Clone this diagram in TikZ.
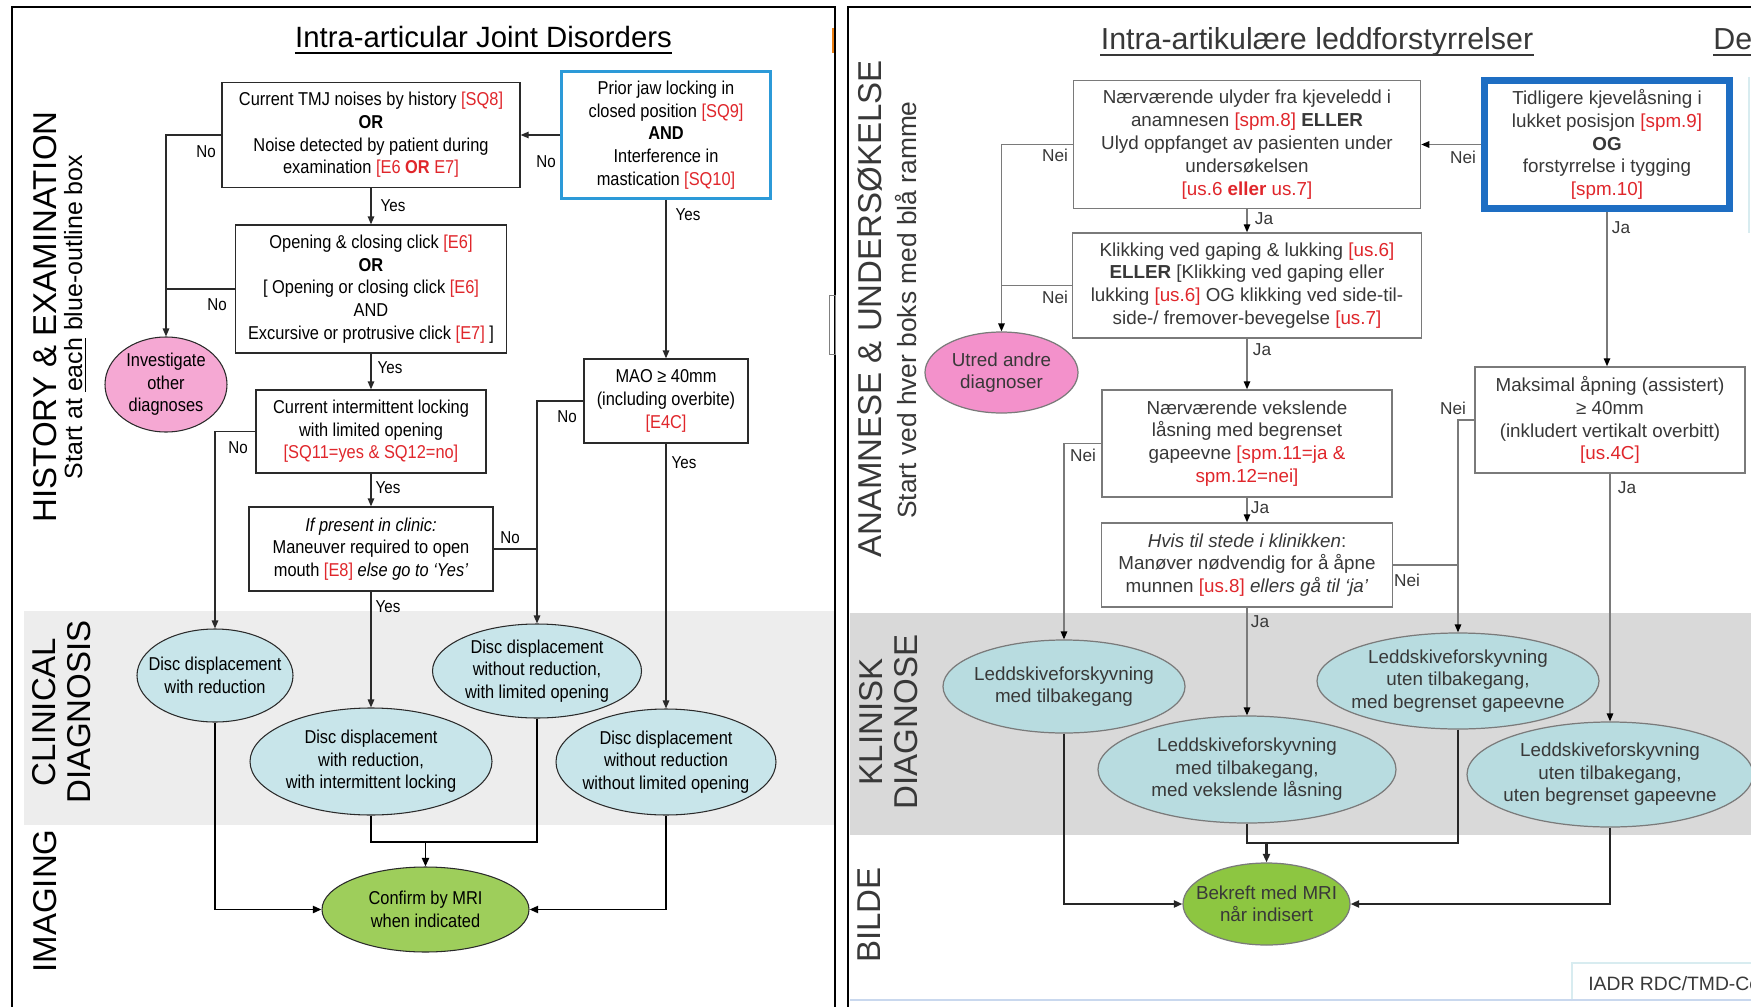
\documentclass[tikz,border=0pt]{standalone}
\usepackage{fontspec}
\setmainfont{Liberation Sans}
\newfontfamily\narrowfont[FakeStretch=0.88]{Liberation Sans}
\usetikzlibrary{arrows.meta,shapes.geometric,calc}
\definecolor{Ink}{HTML}{2A2A2A}
\definecolor{NInk}{HTML}{383838}
\definecolor{NLine}{HTML}{7A7A7A}
\definecolor{QRed}{HTML}{E0262B}
\definecolor{StartBlue}{HTML}{2C9AD8}
\definecolor{NStartBlue}{HTML}{1E6EC3}
\definecolor{DxCyan}{HTML}{C8E5EA}
\definecolor{NDxCyan}{HTML}{B8DCE0}
\definecolor{OtherPink}{HTML}{F5A8D3}
\definecolor{NOtherPink}{HTML}{F391CB}
\definecolor{MriGreen}{HTML}{9ECE5B}
\definecolor{NMriGreen}{HTML}{8DC641}
\definecolor{BandEn}{HTML}{EDEDED}
\definecolor{BandNo}{HTML}{D9D9D9}
\definecolor{FootLine}{HTML}{C9D8EE}
\definecolor{FootBox}{HTML}{D8ECF0}
\newcommand{\qref}[1]{\textcolor{QRed}{#1}}
\tikzset{
  sz/.style 2 args={minimum width=#1*0.02cm,minimum height=#2*0.02cm},
  qbox/.style={draw=Ink,line width=0.75pt,fill=white,align=center,inner sep=0pt,font=\narrowfont\fontsize{10.6}{12.9}\selectfont},
  startbox/.style={qbox,draw=StartBlue,line width=1.7pt},
  dxoval/.style={ellipse,draw=Ink,line width=0.6pt,fill=DxCyan,align=center,inner xsep=-80pt,inner ysep=-40pt,font=\narrowfont\fontsize{10.6}{12.9}\selectfont},
  otheroval/.style={dxoval,fill=OtherPink},
  mrioval/.style={dxoval,fill=MriGreen},
  nqbox/.style={draw=NLine,line width=0.85pt,fill=white,align=center,inner sep=0pt,text=NInk,font=\fontsize{10.7}{13}\selectfont},
  nstartbox/.style={nqbox,draw=NStartBlue,line width=4pt},
  ndxoval/.style={ellipse,draw=NLine,line width=0.7pt,fill=NDxCyan,align=center,inner xsep=-80pt,inner ysep=-40pt,text=NInk,font=\fontsize{10.7}{12.8}\selectfont},
  notheroval/.style={ndxoval,fill=NOtherPink},
  nmrioval/.style={ndxoval,fill=NMriGreen},
  lab/.style={inner sep=0pt,font=\narrowfont\fontsize{9.8}{11}\selectfont},
  nlab/.style={inner sep=0pt,text=NInk,font=\fontsize{9.8}{11}\selectfont},
  side/.style={rotate=90,align=center,inner sep=0pt,font=\fontsize{18.8}{19.9}\selectfont},
  sidesub/.style={rotate=90,inner sep=0pt,font=\fontsize{14.2}{16}\selectfont},
  ttl/.style={inner sep=0pt,font=\fontsize{16.7}{20}\selectfont},
  line/.style={draw=Ink,line width=0.75pt},
  arr/.style={line,-{Triangle[length=1.6mm,width=1.3mm]}},
  lineb/.style={draw=black,line width=1.1pt},
  arrb/.style={lineb,-{Triangle[length=1.7mm,width=1.4mm]}},
  nline/.style={draw=NLine,line width=0.8pt},
  narr/.style={nline,-{Triangle[length=1.6mm,width=1.3mm,color=black]}},
  nlineb/.style={draw=black!85,line width=1.2pt},
  narrb/.style={nlineb,-{Triangle[length=1.7mm,width=1.4mm]}}
}

\begin{document}
\begin{tikzpicture}[x=0.02cm,y=-0.02cm]
  \useasboundingbox (0,0) rectangle (1751,1007);
  \clip (0,0) rectangle (1751,1007);
  \fill[white] (0,0) rectangle (1751,1007);
  \fill[BandEn] (24,611) rectangle (834,825);
  \fill[BandNo] (850,613) rectangle (1751,835);
  \draw[line width=1.1pt] (12,1010) -- (12,7) -- (835,7) -- (835,1010);
  \draw[line width=0.9pt] (848,1010) -- (848,7) -- (1760,7);
  \draw[draw=gray,line width=0.5pt] (829,295) rectangle (835,354);
  \draw[draw=orange!70!brown,line width=0.8pt] (833,28) -- (833,53);
  \draw[draw=FootBox,line width=0.8pt] (1749,77) -- (1749,233);
  \draw[draw=FootBox,line width=0.8pt] (1572,1001) |- (1760,963);
  \draw[draw=FootLine,line width=1pt] (850,1000) -- (1760,1000);

  % english half
  \node[ttl,anchor=base] (tEn) at (483.5,48) {Intra-articular Joint Disorders};
  \draw[line width=1pt] ([yshift=-3pt]tEn.base west) -- ([yshift=-3pt]tEn.base east);
  \node[side] (sHist) at (45,317) {HISTORY \& EXAMINATION};
  \node[sidesub] (sStart) at (75,317) {Start at \underline{each} blue-outline box};
  \node[side] (sClin) at (62,712) {CLINICAL\\DIAGNOSIS};
  \node[side] (sImg) at (45,901) {IMAGING};

  \node[startbox,sz={209}{127}] (jawlock) at (666,135) {Prior jaw locking in\\closed position \qref{[SQ9]}\\\textbf{AND}\\Interference in\\mastication \qref{[SQ10]}};
  \node[qbox,sz={298}{105}] (noises) at (371,135) {Current TMJ noises by history \qref{[SQ8]}\\\textbf{OR}\\Noise detected by patient during\\examination \qref{[E6 \textbf{OR} E7]}};
  \node[qbox,sz={271}{128}] (clicks) at (371,289) {Opening \& closing click \qref{[E6]}\\\textbf{OR}\\{[} Opening or closing click \qref{[E6]}\\AND\\Excursive or protrusive click \qref{[E7]} ]};
  \node[qbox,sz={230}{83}] (intlock) at (371,431.5) {Current intermittent locking\\with limited opening\\\qref{[SQ11=yes \& SQ12=no]}};
  \node[qbox,sz={244}{84}] (maneuver) at (371,549) {\textit{If present in clinic:}\\Maneuver required to open\\mouth \qref{[E8]} \textit{else go to ‘Yes’}};
  \node[qbox,sz={164}{84}] (mao) at (666,401) {MAO ≥ 40mm\\(including overbite)\\\qref{[E4C]}};
  \node[otheroval,sz={122}{95}] (other) at (166,384.5) {Investigate\\other\\diagnoses};
  \node[dxoval,sz={156}{93}] (ddwr) at (215,675.5) {Disc displacement\\with reduction};
  \node[dxoval,sz={242}{107}] (ddwril) at (371,761.5) {Disc displacement\\with reduction,\\with intermittent locking};
  \node[dxoval,sz={209}{94}] (ddwolo) at (537,671) {Disc displacement\\without reduction,\\with limited opening};
  \node[dxoval,sz={220}{106}] (ddwonlo) at (666,762) {Disc displacement\\without reduction\\without limited opening};
  \node[mrioval,sz={207}{85}] (mri) at (425.5,909.5) {Confirm by MRI\\when indicated};

  \draw[arr] (jawlock.west) -- (noises.east);
  \draw[arr] (jawlock.south) -- (mao.north);
  \draw[arr] (noises.south) -- (clicks.north);
  \draw[arr] (clicks.south) -- (intlock.north);
  \draw[arr] (intlock.south) -- (maneuver.north);
  \draw[arr] (maneuver.south) -- (ddwril.north);
  \draw[arr] (noises.west) -| (other.north);
  \draw[line] (clicks.west) -- (clicks.west -| other.north);
  \draw[arr] (intlock.west) -| (ddwr.north);
  \draw[arr] (mao.west) -| (ddwolo.north);
  \draw[line] (maneuver.east) -- (maneuver.east -| ddwolo.north);
  \draw[arr] (mao.south) -- (ddwonlo.north);
  \draw[arrb] (ddwr.south) |- (mri.west);
  \draw[arrb] (ddwonlo.south) |- (mri.east);
  \coordinate (merge) at (425.5,842);
  \draw[lineb] (ddwril.south) |- (merge);
  \draw[lineb] (ddwolo.south) |- (merge);
  \draw[arrb] (merge) -- (mri.north);

  \node[lab] (l1) at (546,162) {No};
  \node[lab] (l2) at (688,215) {Yes};
  \node[lab] (l3) at (206,152) {No};
  \node[lab] (l4) at (393,206) {Yes};
  \node[lab] (l5) at (217,305) {No};
  \node[lab] (l6) at (390,368) {Yes};
  \node[lab] (l7) at (238,448) {No};
  \node[lab] (l8) at (567,417) {No};
  \node[lab] (l9) at (684,463) {Yes};
  \node[lab] (l10) at (388,488) {Yes};
  \node[lab] (l11) at (510,538) {No};
  \node[lab] (l12) at (388,607) {Yes};

  % norwegian half
  \node[ttl,anchor=base,text=NInk,font=\fontsize{17.3}{20}\selectfont] (tNo) at (1317,50) {Intra-artikulære leddforstyrrelser};
  \draw[draw=NInk,line width=1pt] ([yshift=-3pt]tNo.base west) -- ([yshift=-3pt]tNo.base east);
  \node[ttl,anchor=base west,text=NInk,font=\fontsize{17.3}{20}\selectfont] (tDe) at (1713,50) {De};
  \draw[draw=NInk,line width=1pt] ([yshift=-3pt]tDe.base west) -- ([yshift=-3pt]tDe.base east);
  \node[side,text=NInk] (nHist) at (870,309) {ANAMNESE \& UNDERSØKELSE};
  \node[sidesub,text=NInk,font=\fontsize{15}{17}\selectfont] (nStart) at (906,310) {Start ved hver boks med blå ramme};
  \node[side,text=NInk] (nClin) at (889,722) {KLINISK\\DIAGNOSE};
  \node[side,text=NInk] (nImg) at (869,915) {BILDE};

  \node[nstartbox,sz={245}{128}] (njaw) at (1607,144.5) {Tidligere kjevelåsning i\\lukket posisjon \qref{[spm.9]}\\\textbf{OG}\\forstyrrelse i tygging\\\qref{[spm.10]}};
  \node[nqbox,sz={347}{128}] (nnoise) at (1247,144.5) {Nærværende ulyder fra kjeveledd i\\anamnesen \qref{[spm.8]} \textbf{ELLER}\\Ulyd oppfanget av pasienten under\\undersøkelsen\\\qref{[us.6 \textbf{eller} us.7]}};
  \node[nqbox,sz={349}{105}] (nclick) at (1247,285.5) {Klikking ved gaping \& lukking \qref{[us.6]}\\\textbf{ELLER} [Klikking ved gaping eller\\lukking \qref{[us.6]} OG klikking ved side-til-\\side-/ fremover-bevegelse \qref{[us.7]}};
  \node[nqbox,sz={290}{107}] (nlock) at (1247,443.5) {Nærværende vekslende\\låsning med begrenset\\gapeevne \qref{[spm.11=ja \&}\\\qref{spm.12=nei]}};
  \node[nqbox,sz={291}{84}] (nmanoever) at (1247,565) {\textit{Hvis til stede i klinikken}:\\Manøver nødvendig for å åpne\\munnen \qref{[us.8]} \textit{ellers gå til ‘ja’}};
  \node[nqbox,sz={270}{106}] (nmaks) at (1610,420) {Maksimal åpning (assistert)\\≥ 40mm\\(inkludert vertikalt overbitt)\\\qref{[us.4C]}};
  \node[notheroval,sz={153}{81}] (nother) at (1001.5,372.5) {Utred andre\\diagnoser};
  \node[ndxoval,sz={242}{93}] (nddmt) at (1064,686.5) {Leddskiveforskyvning\\med tilbakegang};
  \node[ndxoval,sz={298}{107}] (nddmtl) at (1247,769.5) {Leddskiveforskyvning\\med tilbakegang,\\med vekslende låsning};
  \node[ndxoval,sz={282}{96}] (nddubg) at (1458,681) {Leddskiveforskyvning\\uten tilbakegang,\\med begrenset gapeevne};
  \node[ndxoval,sz={286}{105}] (nddutbg) at (1610,774.5) {Leddskiveforskyvning\\uten tilbakegang,\\uten begrenset gapeevne};
  \node[nmrioval,sz={167}{82}] (nmri) at (1266.5,904) {Bekreft med MRI\\når indisert};

  \draw[narr] (njaw.west) -- (nnoise.east);
  \draw[narr] (njaw.south) -- (njaw.south |- nmaks.north);
  \draw[narr] (nnoise.south) -- (nclick.north);
  \draw[narr] (nclick.south) -- (nlock.north);
  \draw[narr] (nlock.south) -- (nmanoever.north);
  \draw[narr] (nmanoever.south) -- (nddmtl.north);
  \draw[narr] (nnoise.west) -| (nother.north);
  \draw[nline] (nclick.west) -- (nclick.west -| nother.north);
  \draw[narr] (nlock.west) -| (nddmt.north);
  \draw[narr] (nmaks.west) -| (nddubg.north);
  \draw[nline] (nmanoever.east) -- (nmanoever.east -| nddubg.north);
  \draw[narr] (nmaks.south) -- (nddutbg.north);
  \draw[narrb] (nddmt.south) |- (nmri.west);
  \draw[narrb] (nddutbg.south) |- (nmri.east);
  \coordinate (nmerge) at (1266.5,843);
  \draw[nlineb] (nddmtl.south) |- (nmerge);
  \draw[nlineb] (nddubg.south) |- (nmerge);
  \draw[narrb] (nmerge) -- (nmri.north);

  \node[nlab] (n1) at (1463,157) {Nei};
  \node[nlab] (n2) at (1621,228) {Ja};
  \node[nlab] (n3) at (1055,155) {Nei};
  \node[nlab] (n4) at (1264,219) {Ja};
  \node[nlab] (n5) at (1055,297) {Nei};
  \node[nlab] (n6) at (1262,350) {Ja};
  \node[nlab] (n7) at (1083,455) {Nei};
  \node[nlab] (n8) at (1453,408) {Nei};
  \node[nlab] (n9) at (1627,488) {Ja};
  \node[nlab] (n10) at (1260,508) {Ja};
  \node[nlab] (n11) at (1407,580) {Nei};
  \node[nlab] (n12) at (1260,622) {Ja};

  \node[anchor=base west,inner sep=0pt,text=NInk,font=\fontsize{11}{13}\selectfont] (iadr) at (1588,990) {IADR RDC/TMD-Co};
\end{tikzpicture}
\end{document}
